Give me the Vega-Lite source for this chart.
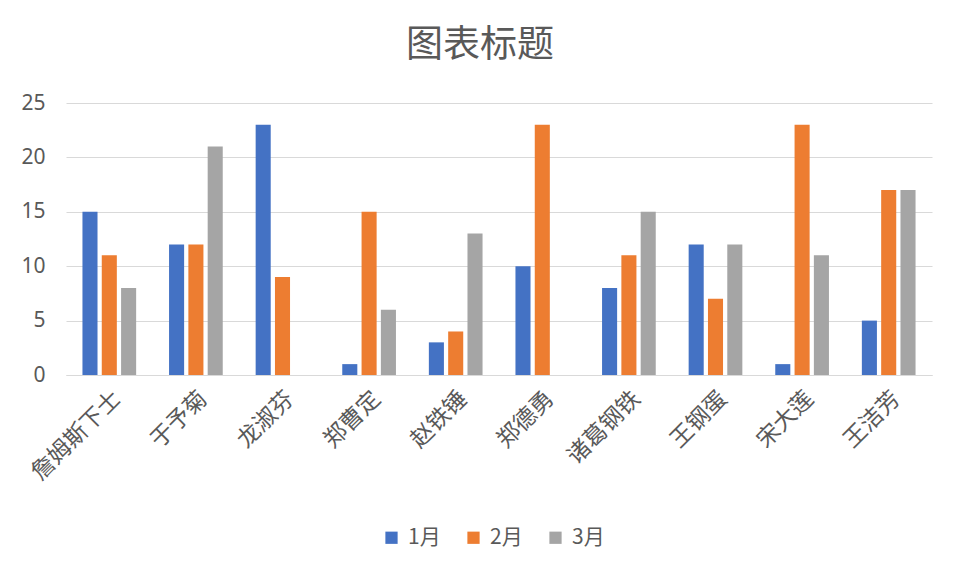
{
  "$schema": "https://vega.github.io/schema/vega-lite/v6.json",
  "autosize": {"type": "none"},
  "width": 866,
  "height": 272,
  "padding": {"left": 66, "top": 103, "right": 28, "bottom": 201},
  "background": "white",
  "title": {
    "text": "图表标题",
    "font": "Noto Sans CJK SC",
    "fontSize": 37,
    "fontWeight": "normal",
    "color": "#595959",
    "offset": 27,
    "dx": -19
  },
  "data": {
    "values": [
      {"name": "詹姆斯下士", "month": "1月", "value": 15},
      {"name": "詹姆斯下士", "month": "2月", "value": 11},
      {"name": "詹姆斯下士", "month": "3月", "value": 8},
      {"name": "于予菊", "month": "1月", "value": 12},
      {"name": "于予菊", "month": "2月", "value": 12},
      {"name": "于予菊", "month": "3月", "value": 21},
      {"name": "龙淑芬", "month": "1月", "value": 23},
      {"name": "龙淑芬", "month": "2月", "value": 9},
      {"name": "郑曹定", "month": "1月", "value": 1},
      {"name": "郑曹定", "month": "2月", "value": 15},
      {"name": "郑曹定", "month": "3月", "value": 6},
      {"name": "赵铁锤", "month": "1月", "value": 3},
      {"name": "赵铁锤", "month": "2月", "value": 4},
      {"name": "赵铁锤", "month": "3月", "value": 13},
      {"name": "郑德勇", "month": "1月", "value": 10},
      {"name": "郑德勇", "month": "2月", "value": 23},
      {"name": "诸葛钢铁", "month": "1月", "value": 8},
      {"name": "诸葛钢铁", "month": "2月", "value": 11},
      {"name": "诸葛钢铁", "month": "3月", "value": 15},
      {"name": "王钢蛋", "month": "1月", "value": 12},
      {"name": "王钢蛋", "month": "2月", "value": 7},
      {"name": "王钢蛋", "month": "3月", "value": 12},
      {"name": "宋大莲", "month": "1月", "value": 1},
      {"name": "宋大莲", "month": "2月", "value": 23},
      {"name": "宋大莲", "month": "3月", "value": 11},
      {"name": "王洁芳", "month": "1月", "value": 5},
      {"name": "王洁芳", "month": "2月", "value": 17},
      {"name": "王洁芳", "month": "3月", "value": 17}
    ]
  },
  "mark": {"type": "bar"},
  "encoding": {
    "x": {
      "field": "name",
      "type": "nominal",
      "sort": null,
      "title": null,
      "scale": {"paddingInner": 0.38, "paddingOuter": 0.19},
      "axis": {
        "labelAngle": -45,
        "labelFont": "Noto Sans CJK SC",
        "labelFontSize": 23,
        "labelColor": "#595959",
        "ticks": false,
        "domainColor": "#d9d9d9",
        "labelPadding": 12
      }
    },
    "xOffset": {
      "field": "month",
      "type": "nominal",
      "scale": {"domain": ["1月", "2月", "3月"], "paddingInner": 0.22, "paddingOuter": 0}
    },
    "y": {
      "field": "value",
      "type": "quantitative",
      "title": null,
      "scale": {"domain": [0, 25]},
      "axis": {
        "values": [0, 5, 10, 15, 20, 25],
        "labelFont": "Noto Sans",
        "labelFontSize": 21,
        "labelColor": "#595959",
        "ticks": false,
        "domain": false,
        "gridColor": "#d9d9d9",
        "labelPadding": 21
      }
    },
    "color": {
      "field": "month",
      "type": "nominal",
      "scale": {"domain": ["1月", "2月", "3月"], "range": ["#4472C4", "#ED7D31", "#A5A5A5"]},
      "legend": {
        "title": null,
        "orient": "none",
        "direction": "horizontal",
        "legendX": 315,
        "legendY": 424,
        "symbolType": "square",
        "symbolSize": 150,
        "symbolStrokeWidth": 0,
        "labelFont": "Noto Sans CJK SC",
        "labelFontSize": 21,
        "labelColor": "#595959",
        "columnPadding": 22,
        "labelOffset": 6
      }
    }
  },
  "config": {"view": {"stroke": null}}
}
